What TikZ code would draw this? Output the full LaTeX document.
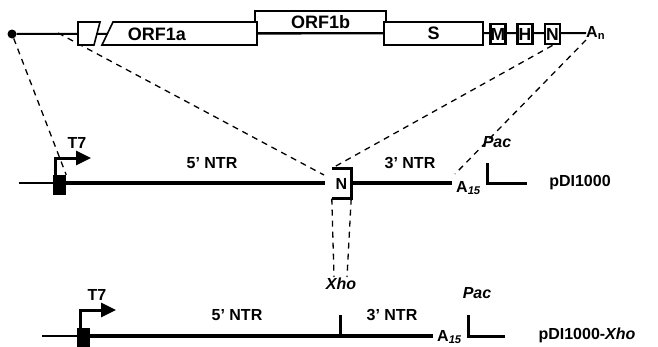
\documentclass[tikz,border=0pt]{standalone}
\usepackage{fontspec}
\setmainfont{Liberation Sans}
\usetikzlibrary{arrows.meta, positioning, calc}

\tikzset{
  orf/.style={draw, line width=1.6pt, fill=white, inner sep=0pt, font=\bfseries\fontsize{18}{18}\selectfont},
  smallorf/.style={draw, line width=2.8pt, fill=white, inner sep=0pt, minimum width=15pt, minimum height=20pt, font=\bfseries\fontsize{17.5}{17.5}\selectfont},
  lbl/.style={font=\bfseries\fontsize{16}{16}\selectfont, inner sep=0pt},
  ilbl/.style={font=\bfseries\itshape\fontsize{16}{16}\selectfont, inner sep=0pt},
  map/.style={line width=1.3pt, dash pattern=on 6pt off 5pt},
  dna/.style={line width=4pt},
  thinline/.style={line width=2pt},
  prom/.style={line width=3pt, -{Triangle[length=15pt,width=14pt]}},
  site/.style={line width=3pt},
}

\begin{document}
\begin{tikzpicture}[x=1pt, y=-1pt]
\useasboundingbox (0,0) rectangle (658,346);

% genome
\node[circle, fill, inner sep=0pt, minimum size=9pt] (cap) at (12,34) {};
\node[lbl, anchor=west] (polyA) at (586,33) {A\textsubscript{n}};
\coordinate (orf1start) at (58,33);
\coordinate (nleft) at (324,175);
\coordinate (aend) at (455,174);
\coordinate (xhoL) at (334,277);
\coordinate (xhoR) at (347,277);

% pDI1000
\node[fill, minimum width=13pt, minimum height=20pt, inner sep=0pt] (t7boxA) at (59.5,185) {};
\node[lbl, minimum width=19pt, minimum height=30pt] (nbox) at (341.5,183.5) {N};
\node[lbl, anchor=west] (a15A) at (456,188) {A\textsubscript{\itshape 15}};

% mapping lines
\draw[map] (cap) -- (t7boxA.north east);
\draw[map] (orf1start) -- (nleft);
\draw[map] (polyA.south west) -- (aend);

\draw[thinline] (cap) -- (polyA.west);
\draw[line width=1.6pt, fill=white] (78,22) -- (100,22) -- (94,45) -- (78,45) -- cycle;
\node[orf, minimum width=131pt, minimum height=22pt] (orf1b) at (320.5,22) {ORF1b};
\draw[line width=1.6pt, fill=white] (113,22) -- (257,22) -- (257,45) -- (102,45) -- cycle;
\node[font=\bfseries\fontsize{18}{18}\selectfont, inner sep=0pt] (orf1a) at (157,34) {ORF1a};
\node[orf, minimum width=99pt, minimum height=23pt] (S) at (433.5,33.5) {S};
\node[smallorf] (M) at (498,34) {M};
\node[smallorf] (H) at (525,34) {H};
\node[smallorf] (nG) at (552.5,34) {N};

\draw[map] (nG.south) -- (nbox.north west);

\draw[thinline] (19,183) -- (t7boxA.west |- 0,183);
\draw[dna] (t7boxA.east |- 0,183) -- (325,183);
\draw[prom] (55,176) |- (91,158);
\node[lbl] (t7A) at (77,143) {T7};
\node[lbl] (ntr5A) at (212,163) {5’ NTR};
\draw[site] (nbox.north west) -- (nbox.north east) -- (nbox.south east) -- (nbox.south west);
\draw[dna] (nbox.east |- 0,183) -- (452,183);
\node[lbl] (ntr3A) at (410,163) {3’ NTR};
\node[ilbl] (pacA) at (497,142) {Pac};
\draw[site] (487,163) -- (487,183) -- (527,183);
\node[lbl] (nameA) at (580,183) {pDI1000};

% pDI1000-Xho
\node[fill, minimum width=13pt, minimum height=19pt, inner sep=0pt] (t7boxB) at (83.5,337.5) {};
\draw[thinline] (42,336) -- (t7boxB.west |- 0,336);
\draw[dna] (t7boxB.east |- 0,336) -- (433,336);
\draw[prom] (80,328) |- (116,310);
\node[lbl] (t7B) at (97,295) {T7};
\node[lbl] (ntr5B) at (237,315) {5’ NTR};
\draw[site] (340,315) -- (340,336);
\node[ilbl] (xho) at (341,284) {Xho};
\node[lbl] (ntr3B) at (392,315) {3’ NTR};
\node[lbl, anchor=west] (a15B) at (437,337) {A\textsubscript{\itshape 15}};
\node[ilbl] (pacB) at (477,293) {Pac};
\draw[site] (468,315) -- (468,336) -- (505,336);
\node[lbl] (nameB) at (587,335) {pDI1000-\textit{Xho}};

\draw[map] (nbox.south west) -- (xhoL);
\draw[map] (nbox.south east) -- (xhoR);
\end{tikzpicture}
\end{document}
